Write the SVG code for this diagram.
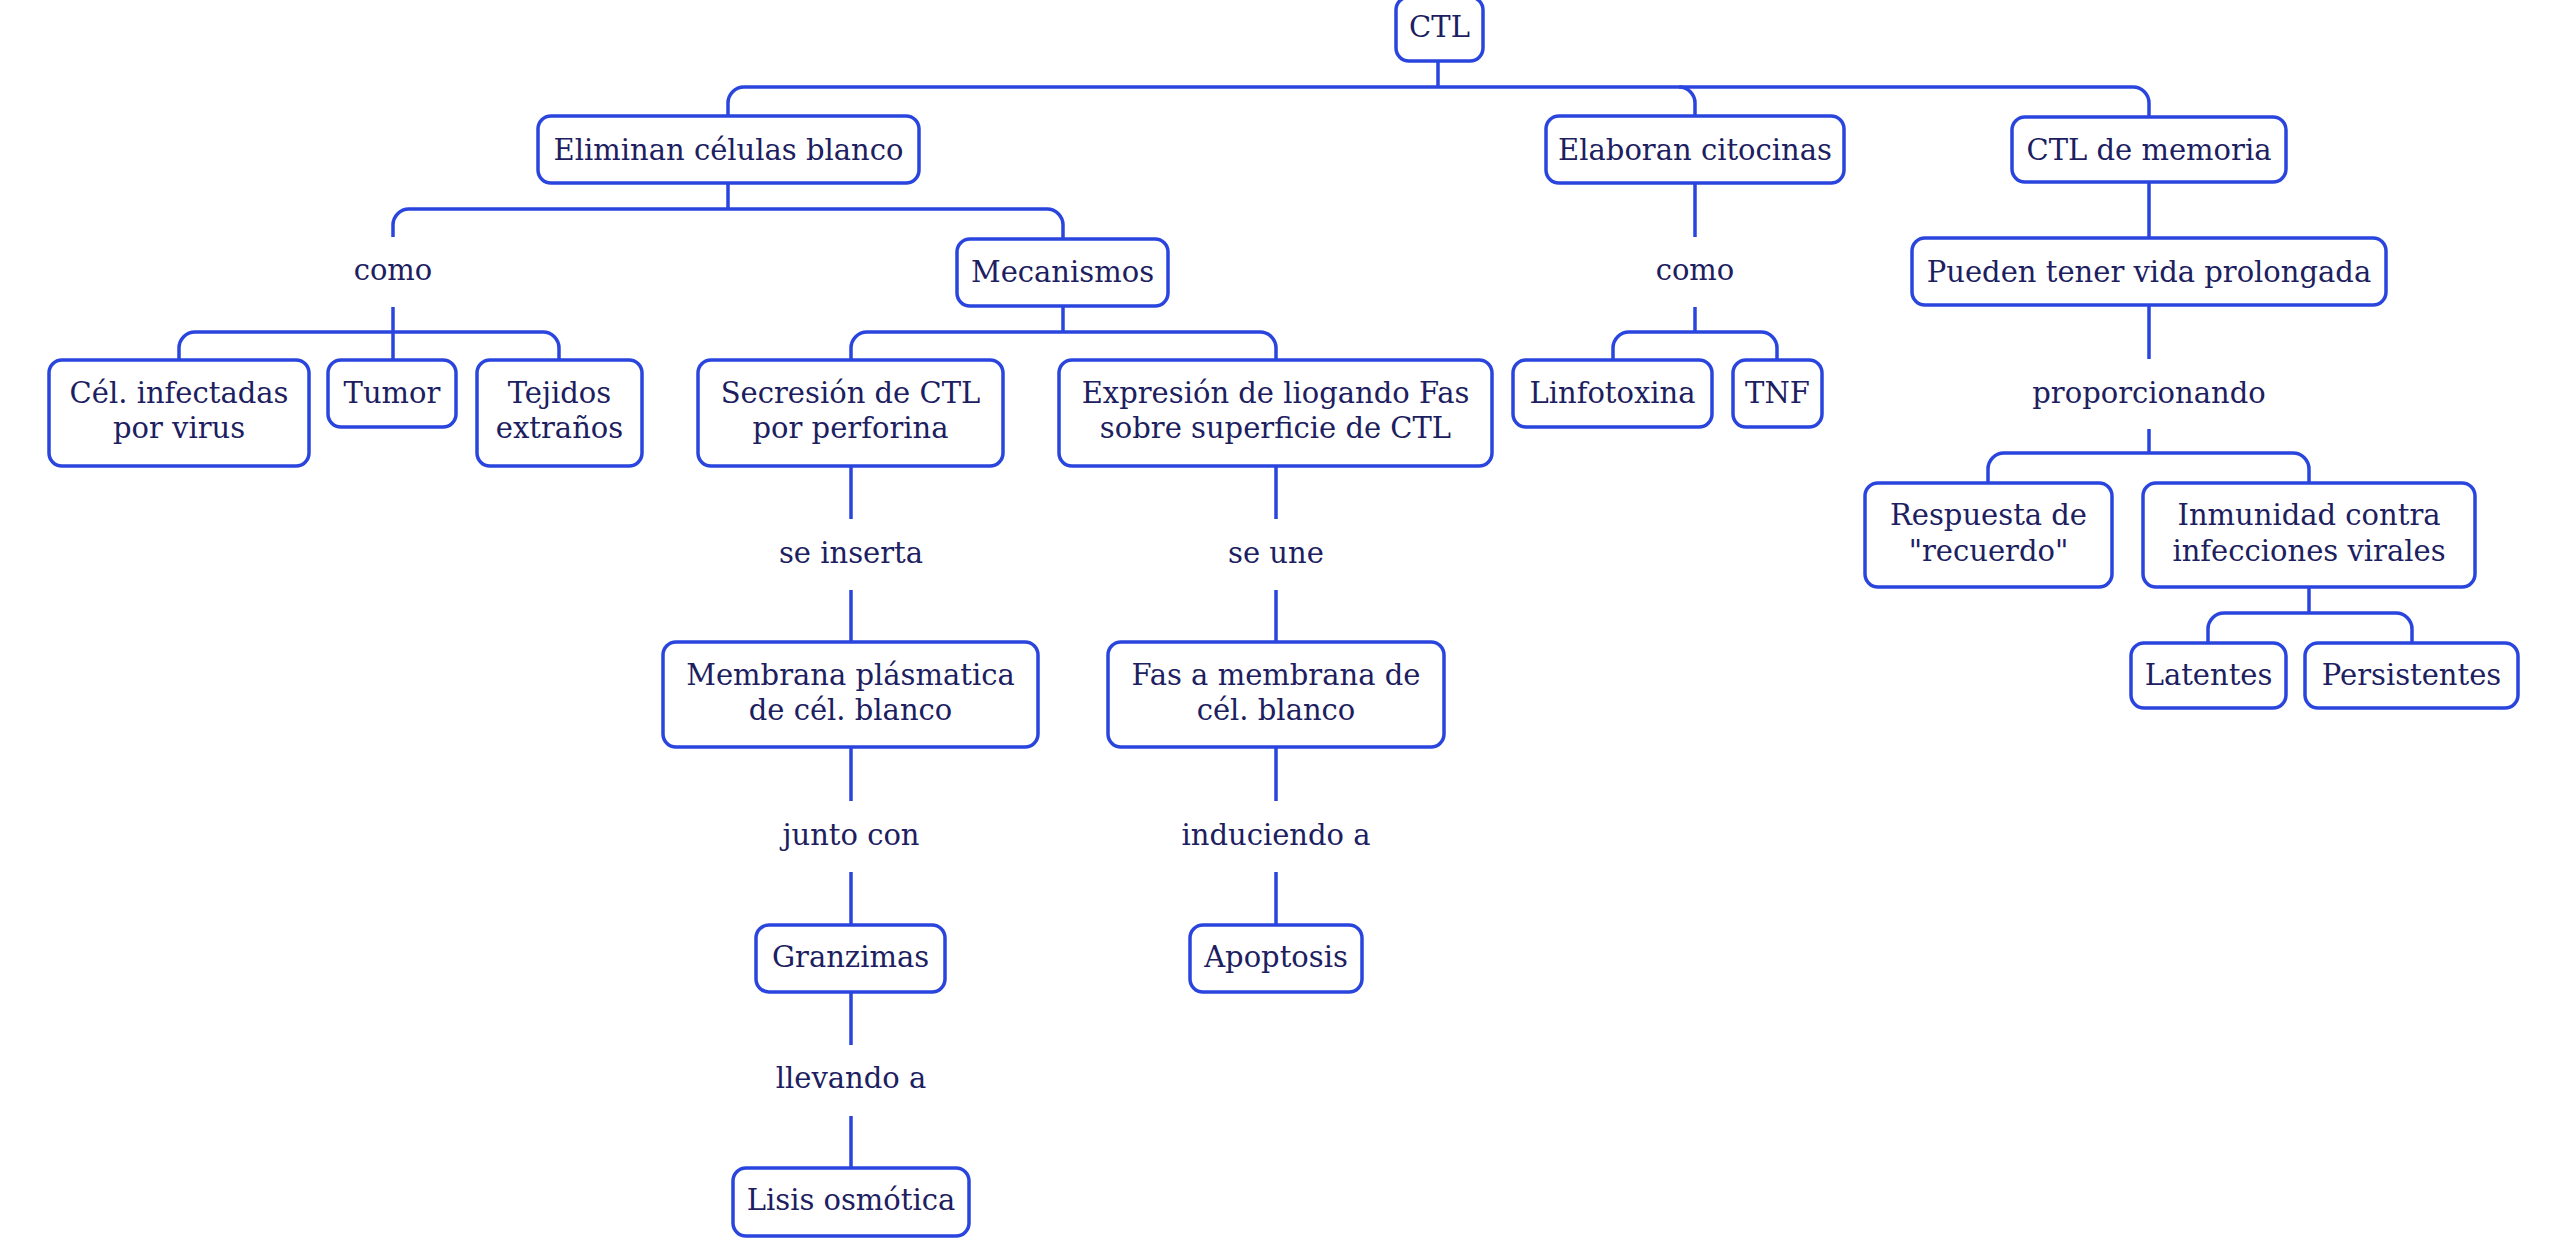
<svg xmlns="http://www.w3.org/2000/svg" width="2563" height="1240" viewBox="0 0 2563 1240">
<style>
.n rect{fill:#fff;stroke:#2a45de;stroke-width:3.5}
text{font-family:"DejaVu Serif","Liberation Serif",serif;font-size:29px;fill:#1c2060;text-anchor:middle}
.c path{fill:none;stroke:#2a45de;stroke-width:3.5}
</style>
<rect width="2563" height="1240" fill="#fff"/>
<g class="c" id="connectors">
<path d="M1438,61 V87"/>
<path d="M728,117 V103 A16,16 0 0 1 744,87 H2133 A16,16 0 0 1 2149,103 V117"/>
<path d="M1679,87 A16,16 0 0 1 1695,103 V117"/>
<path d="M728,183 V209"/>
<path d="M393,237 V225 A16,16 0 0 1 409,209 H1047 A16,16 0 0 1 1063,225 V239"/>
<path d="M393,307 V360"/>
<path d="M179,360 V348 A16,16 0 0 1 195,332 H543 A16,16 0 0 1 559,348 V360"/>
<path d="M1063,306 V332"/>
<path d="M851,360 V348 A16,16 0 0 1 867,332 H1260 A16,16 0 0 1 1276,348 V360"/>
<path d="M1695,183 V237 M1695,307 V332"/>
<path d="M1613,360 V348 A16,16 0 0 1 1629,332 H1761 A16,16 0 0 1 1777,348 V360"/>
<path d="M2149,182 V238 M2149,305 V359 M2149,429 V453"/>
<path d="M1988,483 V469 A16,16 0 0 1 2004,453 H2293 A16,16 0 0 1 2309,469 V483"/>
<path d="M2309,587 V613"/>
<path d="M2208,643 V629 A16,16 0 0 1 2224,613 H2396 A16,16 0 0 1 2412,629 V643"/>
<path d="M851,466 V519 M851,590 V642 M851,747 V801 M851,872 V925 M851,992 V1045 M851,1116 V1168"/>
<path d="M1276,466 V519 M1276,590 V642 M1276,747 V801 M1276,872 V925"/>
</g>
<g class="n" id="n-ctl"><rect x="1396" y="-3" width="87" height="64" rx="13"/><text x="1439.5" y="37">CTL</text></g>
<g class="n" id="n-eliminan"><rect x="538" y="116" width="381" height="67" rx="13"/><text x="728.5" y="159.5">Eliminan células blanco</text></g>
<g class="n" id="n-elaboran"><rect x="1546" y="116" width="298" height="67" rx="13"/><text x="1695" y="159.5">Elaboran citocinas</text></g>
<g class="n" id="n-memoria"><rect x="2012" y="117" width="274" height="65" rx="13"/><text x="2149" y="159.5">CTL de memoria</text></g>
<g id="l-como1"><text x="393" y="280">como</text></g>
<g class="n" id="n-mecanismos"><rect x="957" y="239" width="211" height="67" rx="13"/><text x="1062.5" y="282">Mecanismos</text></g>
<g id="l-como2"><text x="1695" y="280">como</text></g>
<g class="n" id="n-pueden"><rect x="1912" y="238" width="474" height="67" rx="13"/><text x="2149" y="281.5">Pueden tener vida prolongada</text></g>
<g class="n" id="n-cel"><rect x="49" y="360" width="260" height="106" rx="13"/><text x="179" y="403">Cél. infectadas</text><text x="179" y="438">por virus</text></g>
<g class="n" id="n-tumor"><rect x="328" y="360" width="128" height="67" rx="13"/><text x="392" y="403">Tumor</text></g>
<g class="n" id="n-tejidos"><rect x="477" y="360" width="165" height="106" rx="13"/><text x="559.5" y="403">Tejidos</text><text x="559.5" y="438">extraños</text></g>
<g class="n" id="n-secrecion"><rect x="698" y="360" width="305" height="106" rx="13"/><text x="850.5" y="403">Secresión de CTL</text><text x="850.5" y="438">por perforina</text></g>
<g class="n" id="n-expresion"><rect x="1059" y="360" width="433" height="106" rx="13"/><text x="1275.5" y="403">Expresión de liogando Fas</text><text x="1275.5" y="438">sobre superficie de CTL</text></g>
<g class="n" id="n-linfotoxina"><rect x="1513" y="360" width="199" height="67" rx="13"/><text x="1612.5" y="403">Linfotoxina</text></g>
<g class="n" id="n-tnf"><rect x="1733" y="360" width="89" height="67" rx="13"/><text x="1777.5" y="403">TNF</text></g>
<g id="l-proporcionando"><text x="2149" y="403">proporcionando</text></g>
<g class="n" id="n-respuesta"><rect x="1865" y="483" width="247" height="104" rx="13"/><text x="1988.5" y="525">Respuesta de</text><text x="1988.5" y="561">"recuerdo"</text></g>
<g class="n" id="n-inmunidad"><rect x="2143" y="483" width="332" height="104" rx="13"/><text x="2309" y="525">Inmunidad contra</text><text x="2309" y="561">infecciones virales</text></g>
<g class="n" id="n-latentes"><rect x="2131" y="643" width="155" height="65" rx="13"/><text x="2208.5" y="685">Latentes</text></g>
<g class="n" id="n-persistentes"><rect x="2305" y="643" width="213" height="65" rx="13"/><text x="2411.5" y="685">Persistentes</text></g>
<g id="l-seinserta"><text x="851" y="563">se inserta</text></g>
<g id="l-seune"><text x="1276" y="563">se une</text></g>
<g class="n" id="n-membrana"><rect x="663" y="642" width="375" height="105" rx="13"/><text x="850.5" y="685">Membrana plásmatica</text><text x="850.5" y="720">de cél. blanco</text></g>
<g class="n" id="n-fas"><rect x="1108" y="642" width="336" height="105" rx="13"/><text x="1276" y="685">Fas a membrana de</text><text x="1276" y="720">cél. blanco</text></g>
<g id="l-junto"><text x="851" y="845">junto con</text></g>
<g id="l-induciendo"><text x="1276" y="845">induciendo a</text></g>
<g class="n" id="n-granzimas"><rect x="756" y="925" width="189" height="67" rx="13"/><text x="850.5" y="967">Granzimas</text></g>
<g class="n" id="n-apoptosis"><rect x="1190" y="925" width="172" height="67" rx="13"/><text x="1276" y="967">Apoptosis</text></g>
<g id="l-llevando"><text x="851" y="1088">llevando a</text></g>
<g class="n" id="n-lisis"><rect x="733" y="1168" width="236" height="68" rx="13"/><text x="851" y="1210">Lisis osmótica</text></g>
</svg>
